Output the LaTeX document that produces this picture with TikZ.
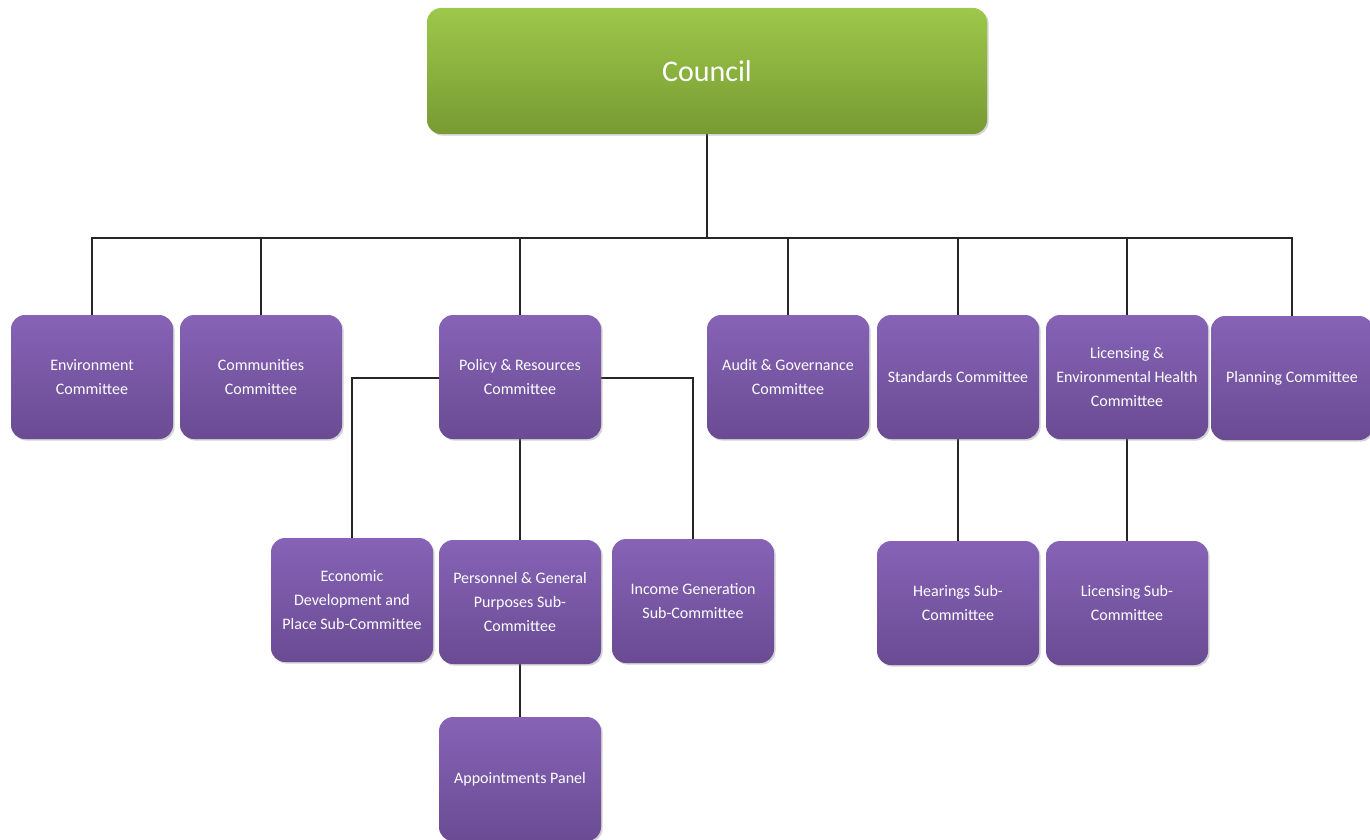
\documentclass[tikz,border=0pt]{standalone}
\usepackage{fontspec}
\setmainfont{Carlito}
\usetikzlibrary{shadows,backgrounds}

\definecolor{cmtop}{HTML}{8663B6}
\definecolor{cmbot}{HTML}{6A4B93}
\definecolor{cntop}{HTML}{9DC84A}
\definecolor{cnbot}{HTML}{789A33}

\begin{document}
\begin{tikzpicture}[x=0.5pt, y=-0.5pt,
                    committee/.style={rectangle, rounded corners=7pt,
                        minimum width=81pt, minimum height=62pt,
                        top color=cmtop, bottom color=cmbot,
                        text=white, align=center,
                        font=\fontsize{8}{12}\selectfont,
                        drop shadow={opacity=0.35, shadow xshift=0.8pt, shadow yshift=-0.8pt}},
                    council/.style={committee, minimum width=280pt, minimum height=63pt,
                        top color=cntop, bottom color=cnbot,
                        font=\fontsize{15}{18}\selectfont},
                    link/.style={draw=black!85, line width=0.7pt}]
   \useasboundingbox (0,0) rectangle (1370,840);

   \node[council] (council) at (707,71) {Council};

   % committees
   \node[committee] (env) at (92,377) {Environment\\Committee};
   \node[committee] (comm) at (261,377) {Communities\\Committee};
   \node[committee] (policy) at (520,377) {Policy \& Resources\\Committee};
   \node[committee] (audit) at (788,377) {Audit \& Governance\\Committee};
   \node[committee] (stand) at (958,377) {Standards Committee};
   \node[committee] (lic) at (1127,377) {Licensing \&\\Environmental Health\\Committee};
   \node[committee] (plan) at (1292,378) {Planning Committee};

   % sub-committees
   \node[committee] (econ) at (352,600) {Economic\\Development and\\Place Sub-Committee};
   \node[committee] (pers) at (520,602) {Personnel \& General\\Purposes Sub-\\Committee};
   \node[committee] (income) at (693,601) {Income Generation\\Sub-Committee};
   \node[committee] (hear) at (958,603) {Hearings Sub-\\Committee};
   \node[committee] (licsub) at (1127,603) {Licensing Sub-\\Committee};
   \node[committee] (appt) at (520,779) {Appointments Panel};

   \coordinate (bus) at (707,238);
   \coordinate (pbus) at (520,378);

   % connectors
   \begin{scope}[on background layer]
    \draw[link] (council) -- (bus);
    \foreach \n in {env,comm,policy,audit,stand,lic,plan}
      \draw[link] (\n.north) |- (bus);
    \draw[link] (econ.north) |- (pbus) -| (income.north);
    \draw[link] (policy) -- (pers);
    \draw[link] (pers) -- (appt);
    \draw[link] (stand) -- (hear);
    \draw[link] (lic) -- (licsub);
   \end{scope}
\end{tikzpicture}
\end{document}
